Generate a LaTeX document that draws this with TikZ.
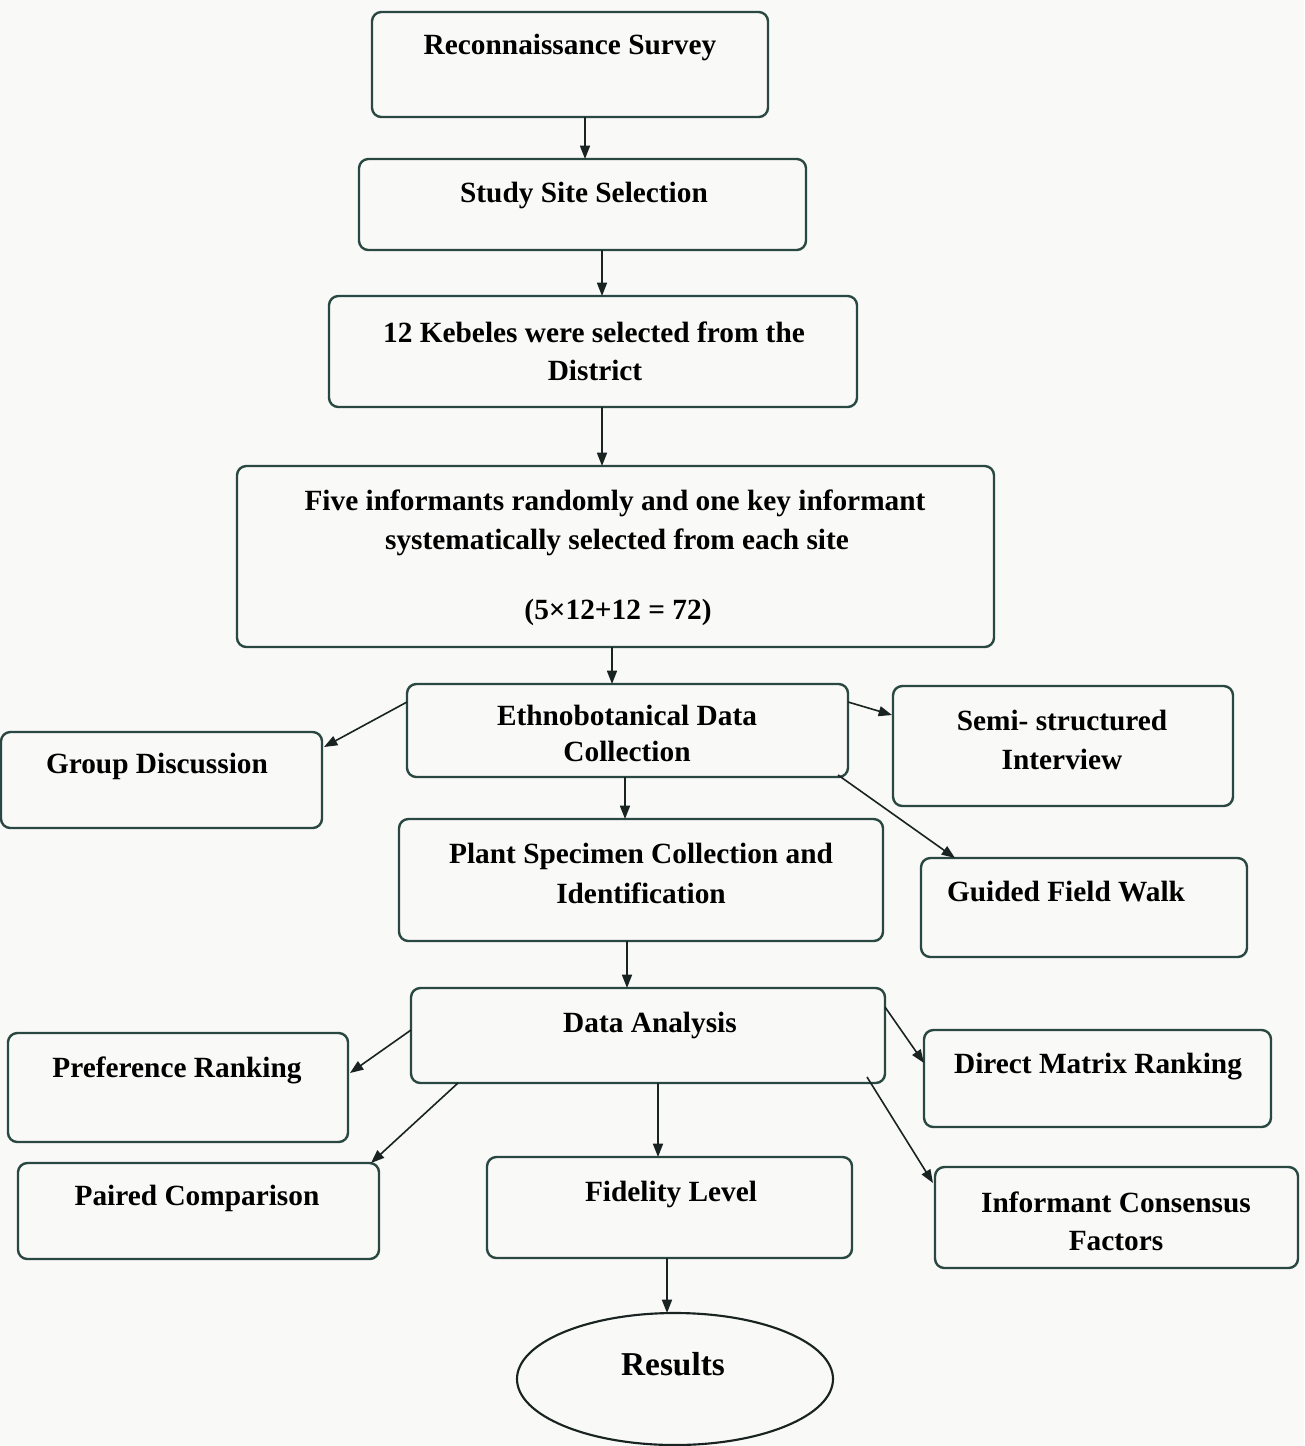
\documentclass[tikz,border=0pt]{standalone}
\usepackage{fontspec}
\setmainfont{Liberation Serif}
\usetikzlibrary{arrows.meta,calc,fit,shapes.geometric}
\definecolor{edge}{RGB}{42,72,66}
\definecolor{arrowc}{RGB}{25,35,33}
\definecolor{paper}{RGB}{249,249,247}
\begin{document}
\begin{tikzpicture}[x=0.75pt,y=-0.75pt,
  box/.style={draw=edge, line width=1.8pt, rounded corners=7pt, inner sep=0pt, outer sep=0pt},
  txt/.style={font=\bfseries\fontsize{22pt}{26pt}\selectfont, anchor=base, inner sep=0pt, text=black},
  bigtxt/.style={font=\bfseries\fontsize{25pt}{29pt}\selectfont, anchor=base, inner sep=0pt, text=black},
  arr/.style={draw=arrowc, line width=1.2pt, -{Triangle[length=10pt,width=7.5pt]}}]
\fill[paper] (0,0) rectangle (1304,1446);
\useasboundingbox (0,0) rectangle (1304,1446);

% boxes
\node[box, fit={(372,12) (768,117)}] (rs) {};
\node[box, fit={(359,159) (806,250)}] (ss) {};
\node[box, fit={(329,296) (857,407)}] (kb) {};
\node[box, fit={(237,466) (994,647)}] (fi) {};
\node[box, fit={(407,684) (848,777)}] (ed) {};
\node[box, fit={(893,686) (1233,806)}] (se) {};
\node[box, fit={(1,732) (322,828)}] (gd) {};
\node[box, fit={(399,819) (883,941)}] (ps) {};
\node[box, fit={(921,858) (1247,957)}] (gf) {};
\node[box, fit={(411,988) (885,1083)}] (da) {};
\node[box, fit={(8,1033) (348,1142)}] (pr) {};
\node[box, fit={(924,1030) (1271,1127)}] (dm) {};
\node[box, fit={(18,1163) (379,1259)}] (pc) {};
\node[box, fit={(487,1157) (852,1258)}] (fl) {};
\node[box, fit={(935,1167) (1298,1268)}] (ic) {};
\node[draw=arrowc, line width=1.6pt, ellipse, inner sep=0pt, outer sep=0pt,
      minimum width=237pt, minimum height=99pt] (re) at (675,1379) {};

% texts
\node[txt] (t-rs) at (570,54) {Reconnaissance Survey};
\node[txt] (t-ss) at (584,202) {Study Site Selection};
\node[txt] (t-kb1) at (594,342) {12 Kebeles were selected from the};
\node[txt] (t-kb2) at (595,380) {District};
\node[txt] (t-fi1) at (615,510) {Five informants randomly and one key informant};
\node[txt] (t-fi2) at (617,549) {systematically selected from each site};
\node[txt] (t-fi3) at (618,619) {(5×12+12 = 72)};
\node[txt] (t-ed1) at (627,725) {Ethnobotanical Data};
\node[txt] (t-ed2) at (627,761) {Collection};
\node[txt] (t-se1) at (1062,730) {Semi- structured};
\node[txt] (t-se2) at (1062,769) {Interview};
\node[txt] (t-gd) at (157,773) {Group Discussion};
\node[txt] (t-ps1) at (641,863) {Plant Specimen Collection and};
\node[txt] (t-ps2) at (641,903) {Identification};
\node[txt] (t-gf) at (1066,901) {Guided Field Walk};
\node[txt] (t-da) at (650,1032) {Data Analysis};
\node[txt] (t-pr) at (177,1077) {Preference Ranking};
\node[txt] (t-dm) at (1098,1073) {Direct Matrix Ranking};
\node[txt] (t-pc) at (197,1205) {Paired Comparison};
\node[txt] (t-fl) at (671,1201) {Fidelity Level};
\node[txt] (t-ic1) at (1116,1212) {Informant Consensus};
\node[txt] (t-ic2) at (1116,1250) {Factors};
\node[bigtxt] (t-re) at (673,1375) {Results};

% connectors
\draw[arr] ($(rs.south)+(15,0)$) -- ($(ss.north)+(2.5,0)$);
\draw[arr] ($(ss.south)+(19.5,0)$) -- ($(kb.north)+(9,0)$);
\draw[arr] ($(kb.south)+(9,0)$) -- ($(fi.north)+(-13.5,0)$);
\draw[arr] ($(fi.south)+(-3.5,0)$) -- ($(ed.north)+(-15.5,0)$);
\draw[arr] ($(ed.south)+(-2.5,0)$) -- ($(ps.north)+(-16,0)$);
\draw[arr] ($(ps.south)+(-14,0)$) -- ($(da.north)+(-21,0)$);
\draw[arr] ($(da.south)+(10,0)$) -- ($(fl.north)+(-11.5,0)$);
\draw[arr] ($(fl.south)+(-2.5,0)$) -- ($(re.north)+(-8,0)$);

\draw[arr] ($(ed.north west)+(0,18)$) -- ($(gd.north east)+(2,15)$);
\draw[arr] ($(ed.north east)+(0,18)$) -- ($(se.north west)+(-1,29)$);
\draw[arr] ($(ed.south east)+(-10,-2)$) -- ($(gf.north west)+(34,0)$);

\draw[arr] ($(da.north west)+(0,42)$) -- ($(pr.north east)+(2,40)$);
\draw[arr] ($(da.north east)+(0,19)$) -- ($(dm.north west)+(0,33)$);
\draw[arr] ($(da.south west)+(47,0)$) -- ($(pc.north east)+(-8,0)$);
\draw[arr] ($(da.south east)+(-18,-6)$) -- ($(ic.north west)+(-2,16)$);
\end{tikzpicture}
\end{document}
